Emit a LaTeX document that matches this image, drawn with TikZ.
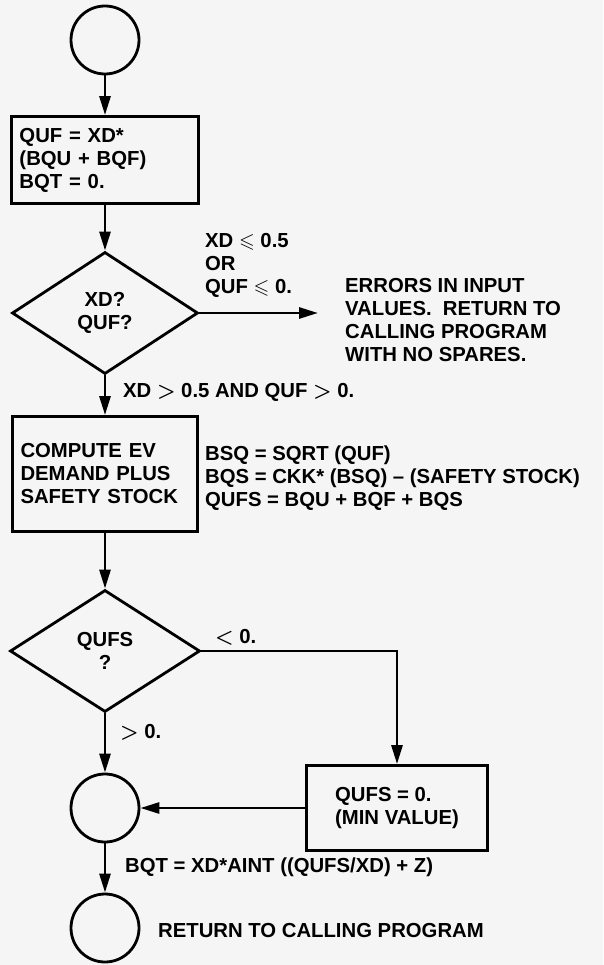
\documentclass[tikz,border=0pt]{standalone}
\usepackage{amssymb}
\usepackage{fontspec}
\setmainfont{Liberation Sans}
\usetikzlibrary{shapes.geometric,arrows.meta}

\tikzset{
  conn/.style={line width=2.8pt},
  arr/.style={conn, -{Triangle[length=19pt,width=11pt]}},
  term/.style={draw, line width=2.8pt, circle, minimum size=68pt, inner sep=0pt},
  procbox/.style={draw, line width=2.8pt, align=left, inner xsep=8pt},
  decide/.style={draw, line width=2.8pt, diamond, align=center, inner sep=0pt},
  lbl/.style={anchor=west, align=left, inner sep=0pt}
}

\begin{document}
\begin{tikzpicture}[x=1pt, y=-1pt, font=\fontsize{20.3}{23}\selectfont\bfseries\boldmath]
  \fill[black!4] (0,0) rectangle (603,965);
  \useasboundingbox (0,0) rectangle (603,965);
  % Entry circle
  \node[term] (start) at (105,40) {};
  % Initial computation
  \node[procbox, text width=171pt, minimum height=87pt] (init) at (105,160) {QUF = XD*\\(BQU + BQF)\\BQT = 0.};
  % Input check -- error exit to the right
  \node[decide, minimum width=186pt, minimum height=122pt] (chkin) at (105,313) {XD?\\QUF?};
  \coordinate (errin) at (318,313);
  \node[lbl] (errcond) at (205,265) {XD $\leqslant$ 0.5\\OR\\QUF $\leqslant$ 0.};
  \node[lbl] (errtext) at (345,320) {ERRORS IN INPUT\\VALUES.\ \ RETURN TO\\CALLING PROGRAM\\WITH NO SPARES.};
  \node[lbl] (okcond) at (123,392) {XD $>$ 0.5 AND QUF $>$ 0.};
  % EV demand plus safety stock
  \node[procbox, text width=169pt, minimum height=115pt] (ev) at (105,474) {COMPUTE EV\\DEMAND PLUS\\SAFETY STOCK};
  \node[lbl] (evform) at (205,478) {BSQ = SQRT (QUF)\\BQS = CKK* (BSQ) -- (SAFETY STOCK)\\QUFS = BQU + BQF + BQS};
  % QUFS check
  \node[decide, minimum width=190pt, minimum height=122pt] (chkfs) at (105,651) {QUFS\\?};
  \node[lbl] (neg) at (215,637) {$<$ 0.};
  \node[lbl] (pos) at (120,732) {$>$ 0.};
  \node[procbox, minimum width=181pt, minimum height=85pt] (minval) at (397,808) {QUFS = 0.\\(MIN VALUE)};
  % Join and return
  \node[term] (join) at (105,808) {};
  \node[lbl] (bqt) at (125,867) {BQT = XD*AINT ((QUFS/XD) + Z)};
  \node[term] (ret) at (105,928) {};
  \node[lbl] (retlbl) at (158,930) {RETURN TO CALLING PROGRAM};
  % Connectors
  \draw[arr] (start) -- (init);
  \draw[arr] (init) -- (chkin);
  \draw[arr] (chkin.east) -- (errin);
  \draw[arr] (chkin) -- (ev);
  \draw[arr] (ev) -- (chkfs);
  \draw[arr] (chkfs.east) -| (minval.north);
  \draw[arr] (chkfs) -- (join);
  \draw[arr] (minval) -- (join);
  \draw[arr] (join) -- (ret);
\end{tikzpicture}
\end{document}
